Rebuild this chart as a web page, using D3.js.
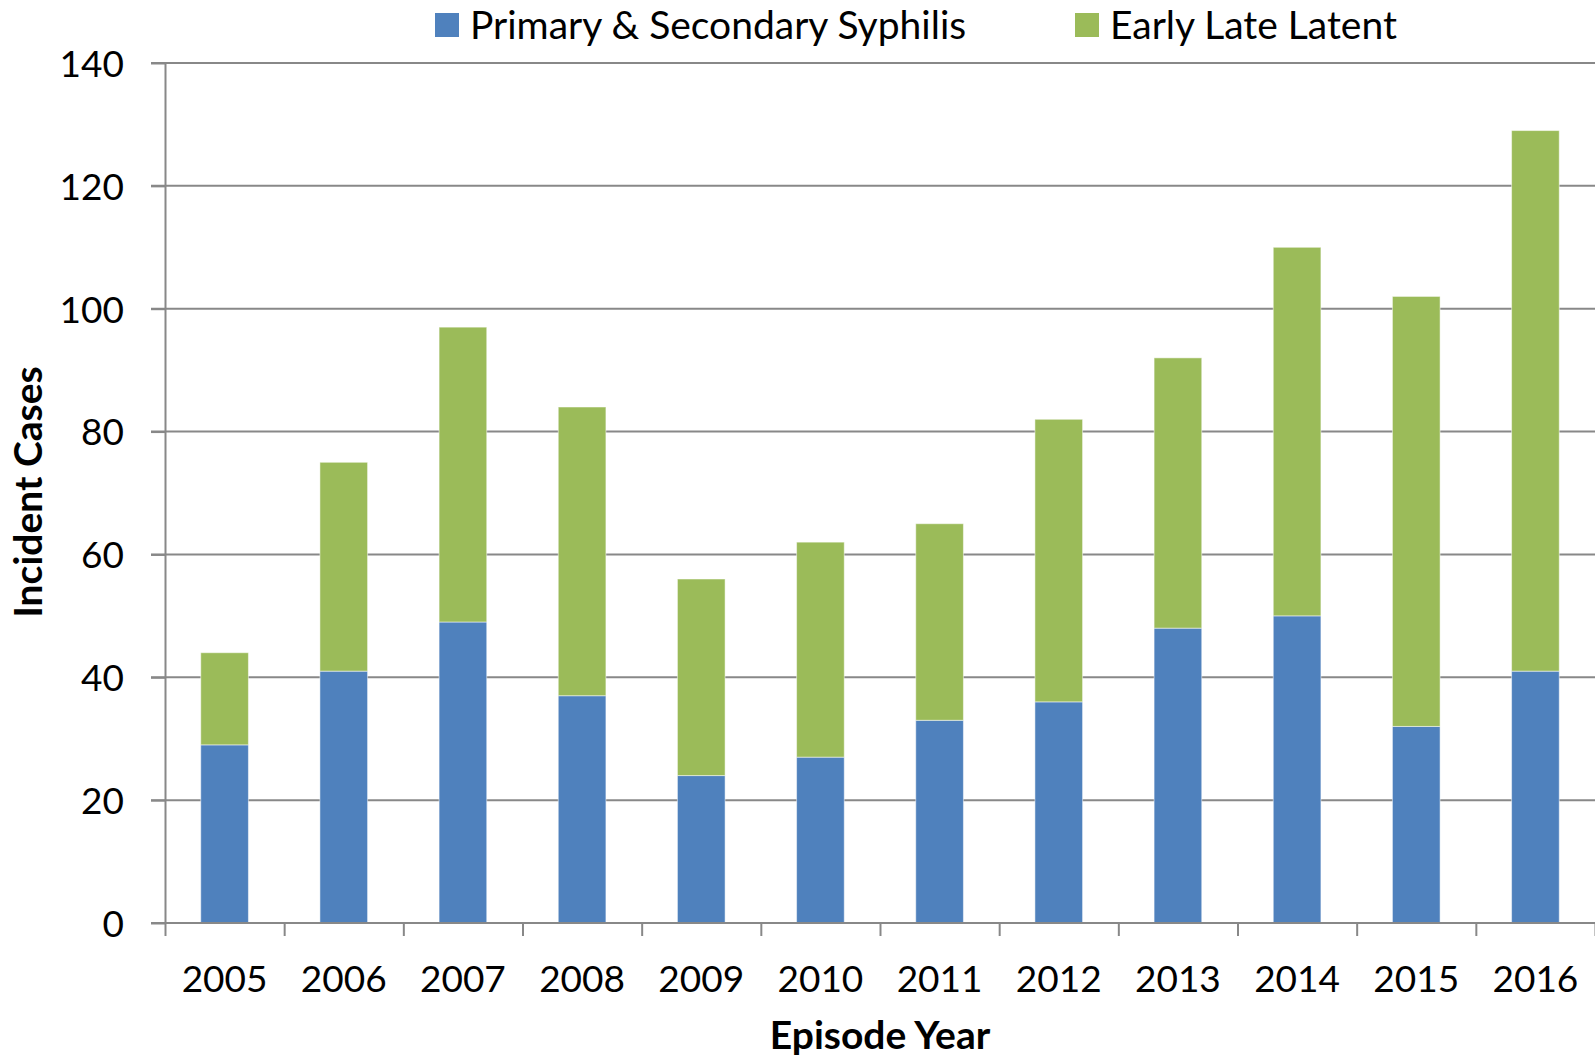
<!DOCTYPE html>
<html>
<head>
<meta charset="utf-8">
<script src="https://cdn.jsdelivr.net/npm/d3@7"></script>
<style>
    html, body { margin: 0; padding: 0; background: white; }
    svg { display: block; font-family: Lato, "DejaVu Sans", sans-serif; }
</style>
</head>
<body>
<script>
const years = ["2005", "2006", "2007", "2008", "2009", "2010", "2011", "2012", "2013", "2014", "2015", "2016"];
const primarySecondary = [29, 41, 49, 37, 24, 27, 33, 36, 48, 50, 32, 41];
const earlyLateLatent = [15, 34, 48, 47, 32, 35, 32, 46, 44, 60, 70, 88];
const seriesNames = ["Primary & Secondary Syphilis", "Early Late Latent"];
const seriesColors = ["#4F81BD", "#9BBB59"];
const yTicks = [0, 20, 40, 60, 80, 100, 120, 140];

let w = 1595, h = 1060;
let svg = d3.select("body").append("svg").attr("width", w).attr("height", h);
let g = svg.append("g");

// stacked table
let rows = years.map((y, i) => ({year: y, ps: primarySecondary[i], ell: earlyLateLatent[i]}));
let stack = d3.stack().keys(["ps", "ell"])(rows);

// scales
let x = d3.scaleBand().domain(years).range([165, 1595]).paddingInner(0.6).paddingOuter(0.3);
let xTick = d3.scaleLinear().domain([0, years.length]).range([165, 1595]);
let y = d3.scaleLinear().domain([0, 140]).range([923, 63]);

// gridlines
g.append("g").attr("class", "grid")
    .selectAll("line").data(yTicks.filter(t => t > 0)).enter()
    .append("line")
    .attr("x1", 151).attr("x2", w)
    .attr("y1", d => y(d)).attr("y2", d => y(d))
    .style("stroke", "#888888")
    .style("stroke-width", 2);

// bars
g.append("g").attr("class", "bars")
    .selectAll("g").data(stack).enter()
    .append("g")
    .style("fill", (d, i) => seriesColors[i])
    .selectAll("rect").data(d => d).enter()
    .append("rect")
    .attr("x", d => x(d.data.year))
    .attr("width", x.bandwidth())
    .attr("y", d => y(d[1]))
    .attr("height", d => y(d[0]) - y(d[1]))
    .style("stroke", "#ffffff")
    .style("stroke-opacity", 0.5)
    .style("stroke-width", 1);

// y axis
let axis_y = d3.axisLeft(y).tickValues(yTicks).tickSize(14).tickSizeOuter(0);
let axis_y_draw = g.append("g").attr("class", "scale_y")
    .attr("transform", "translate(165, 0)")
    .call(axis_y);
axis_y_draw.select(".domain").style("stroke", "#888888").style("stroke-width", 2);
axis_y_draw.selectAll(".tick line").style("stroke", "#888888").style("stroke-width", 2);
axis_y_draw.selectAll(".tick text")
    .attr("x", -41)
    .attr("dy", "0.36em")
    .style("font-family", "Lato, sans-serif")
    .style("font-size", "37px")
    .style("fill", "#000");

// x axis (ticks between categories)
let axis_x = d3.axisBottom(xTick).tickValues(d3.range(0, years.length + 1)).tickSize(13).tickSizeOuter(0).tickFormat("");
let axis_x_draw = g.append("g").attr("class", "scale_x")
    .attr("transform", "translate(0, 923)")
    .call(axis_x);
axis_x_draw.select(".domain").attr("d", `M151,0H${w}`).style("stroke", "#888888").style("stroke-width", 2);
axis_x_draw.selectAll(".tick line").style("stroke", "#888888").style("stroke-width", 2);

g.append("g").attr("class", "xlabels")
    .selectAll("text").data(years).enter()
    .append("text")
    .attr("x", d => x(d) + x.bandwidth() / 2)
    .attr("y", 992)
    .style("text-anchor", "middle")
    .style("font-size", "37px")
    .text(d => d);

// axis titles
g.append("text")
    .attr("transform", "translate(42, 492) rotate(-90)")
    .style("text-anchor", "middle")
    .style("font-size", "39px")
    .style("font-weight", "bold")
    .text("Incident Cases");

g.append("text")
    .attr("x", 880).attr("y", 1049)
    .style("text-anchor", "middle")
    .style("font-size", "39px")
    .style("font-weight", "bold")
    .text("Episode Year");

// legend
let legendX = [435, 1075];
let legend = g.append("g").attr("class", "legend")
    .selectAll("g").data(seriesNames).enter()
    .append("g")
    .attr("transform", (d, i) => `translate(${legendX[i]}, 13)`);
legend.append("rect")
    .attr("width", 24).attr("height", 24)
    .style("fill", (d, i) => seriesColors[i]);
legend.append("text")
    .attr("x", 35).attr("y", 12)
    .attr("dy", "0.36em")
    .style("font-size", "39px")
    .text(d => d);
</script>
</body>
</html>
